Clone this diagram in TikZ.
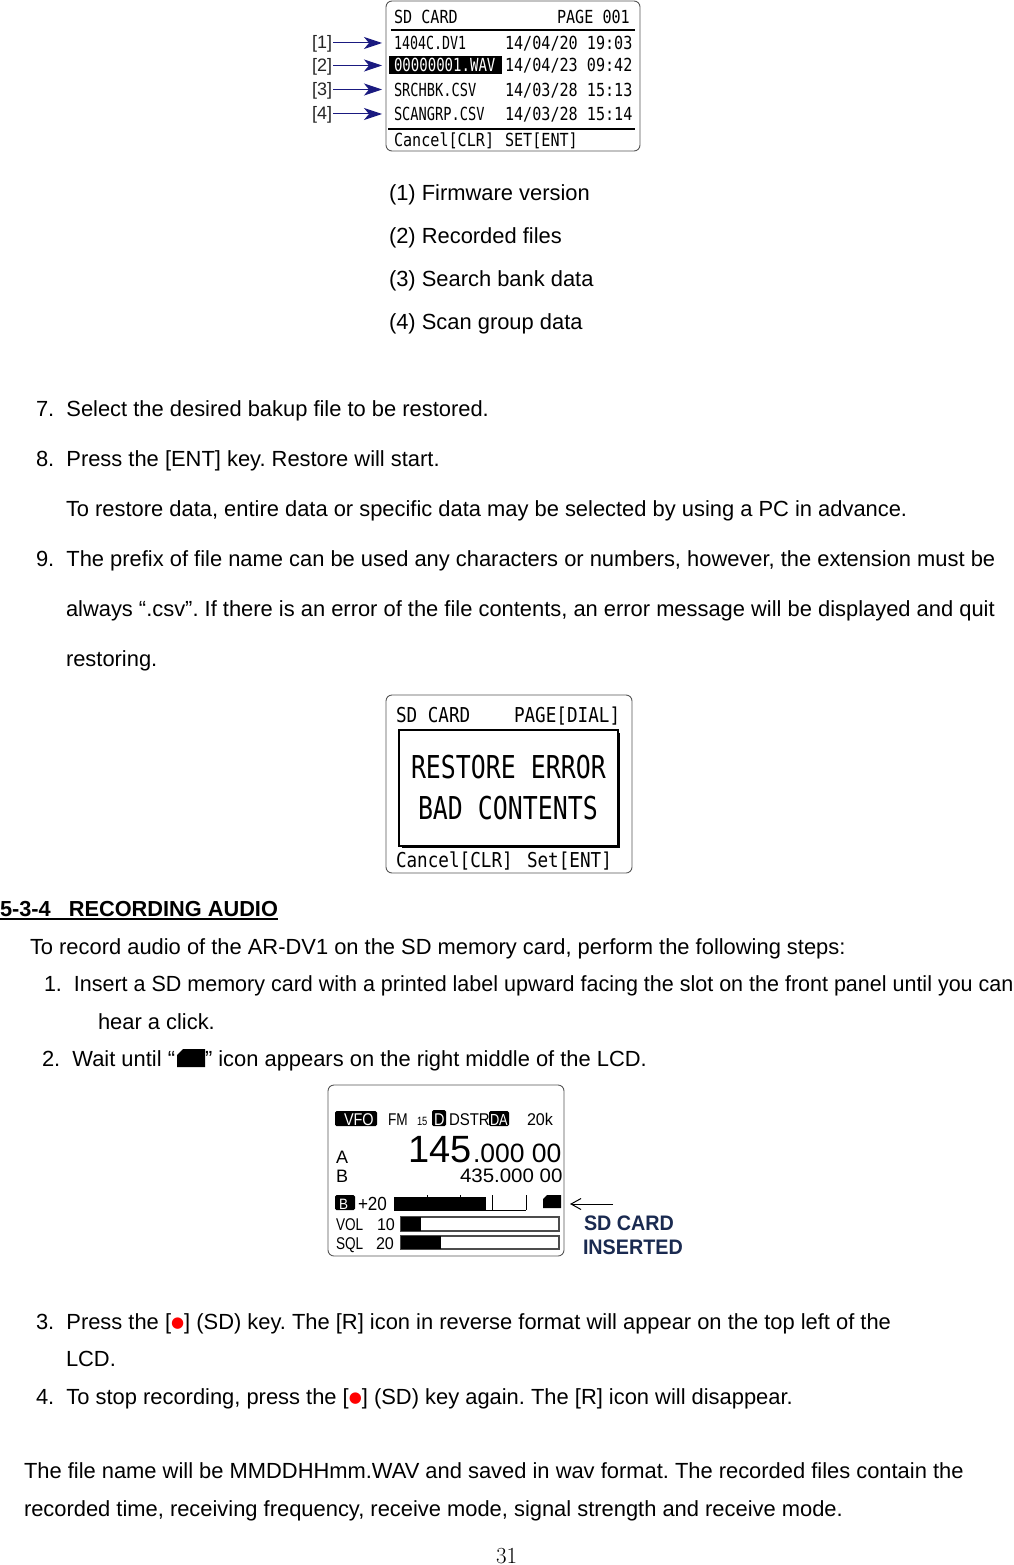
\documentclass[tikz,border=0pt]{standalone}
\usepackage{fontspec}
\setmainfont{Liberation Sans}
\newfontfamily\lcdfont{DejaVu Sans Mono}
\newfontfamily\dotfont{DejaVu Sans}
\newfontfamily\numfont{Latin Modern Roman}
\usetikzlibrary{arrows.meta}
\definecolor{navyarrow}{HTML}{1A1A80}
\definecolor{cardblue}{HTML}{1A2A50}
\definecolor{lcdgrey}{HTML}{555555}
\tikzset{
  x=1pt,y=-1pt,
  body/.style={anchor=base west,inner sep=0pt,outer sep=0pt,font=\fontsize{21.9}{22}\selectfont\frenchspacing,text=black},
  lcdtxt/.style={anchor=base west,inner sep=0pt,outer sep=0pt,text=black},
  small/.style={anchor=base west,inner sep=0pt,outer sep=0pt,font=\fontsize{18}{18}\selectfont,text=black!85},
  frame/.style={draw=lcdgrey,line width=0.9pt,rounded corners=6pt,fill=white},
  rulebar/.style={draw=black,line width=1.6pt},
  barbox/.style={draw=black!70,line width=1.4pt},
  lead/.style={draw=navyarrow,line width=1pt,-{Stealth[length=18pt,width=12pt,inset=5pt]}},
  thin arrow/.style={draw=black,line width=1pt,-{Straight Barb[length=10pt,width=11pt]}},
}
% name, x, y(baseline), size, xscale, text
\newcommand\lt[7][black]{\node[lcdtxt,text=#1] (#2) at (#3,#4) {\scalebox{#6}[1]{\fontsize{#5}{#5}\lcdfont #7}};}
\newcommand\st[7][black]{\node[lcdtxt,text=#1] (#2) at (#3,#4) {\scalebox{#6}[1]{\fontsize{#5}{#5}\selectfont #7}};}
\newcommand\bdot{\textcolor{red}{\raisebox{2.5pt}{\fontsize{15}{15}\dotfont ●}}}
\begin{document}
\begin{tikzpicture}
\useasboundingbox (0,0) rectangle (1013,1565);
\fill[white] (0,0) rectangle (1013,1565);

%% ---------- LCD 1
\path[frame] (386,1) rectangle (640,151);
\draw[rulebar] (391,30) -- (635,30);
\draw[rulebar] (388,129) -- (635,129);
\lt{aa}{394}{24}{18}{.84}{SD CARD}
\lt{ab}{557}{24}{18}{.84}{PAGE 001}
\lt{ac}{394}{49.5}{18}{.74}{1404C.DV1}
\lt{ad}{505}{49.5}{18}{.84}{14/04/20 19:03}
\fill[black] (389,56) rectangle (502,74);
\lt[white]{ae}{394}{72}{18}{.78}{00000001.WAV}
\lt{af}{505}{72}{18}{.84}{14/04/23 09:42}
\lt{ag}{394}{96.5}{18}{.76}{SRCHBK.CSV}
\lt{ah}{505}{96.5}{18}{.84}{14/03/28 15:13}
\lt{ai}{394}{120.5}{18}{.76}{SCANGRP.CSV}
\lt{aj}{505}{120.5}{18}{.84}{14/03/28 15:14}
\lt{ak}{394}{147}{18}{.84}{Cancel[CLR]}
\lt{al}{505}{147}{18}{.84}{SET[ENT]}

\node[small] (l1) at (312,48.5) {[1]};
\node[small] (l2) at (312,71.5) {[2]};
\node[small] (l3) at (312,95.5) {[3]};
\node[small] (l4) at (312,119.5) {[4]};
\coordinate (t1) at (382,43);
\coordinate (t2) at (382,65.5);
\coordinate (t3) at (382,89.5);
\coordinate (t4) at (382,114);
\draw[lead] (l1.east |- t1) ++(1,0) -- (t1);
\draw[lead] (l2.east |- t2) ++(1,0) -- (t2);
\draw[lead] (l3.east |- t3) ++(1,0) -- (t3);
\draw[lead] (l4.east |- t4) ++(1,0) -- (t4);

%% ---------- text block 1
\node[body] (b1) at (389,200.5) {(1) Firmware version};
\node[body] (b2) at (389,243.5) {(2) Recorded files};
\node[body] (b3) at (389,286.5) {(3) Search bank data};
\node[body] (b4) at (389,329.5) {(4) Scan group data};
\node[body] (b5) at (36,416.5) {7.\ \ Select the desired bakup file to be restored.};
\node[body] (b6) at (36,466.5) {8.\ \ Press the [ENT] key. Restore will start.};
\node[body] (b7) at (66,516.5) {To restore data, entire data or specific data may be selected by using a PC in advance.};
\node[body] (b8) at (36,566.5) {9.\ \ The prefix of file name can be used any characters or numbers, however, the extension must be};
\node[body] (b9) at (66,616.5) {always “.csv”. If there is an error of the file contents, an error message will be displayed and quit};
\node[body] (b10) at (66,666.5) {restoring.};

%% ---------- LCD 2
\path[frame] (386,695) rectangle (632,873);
\path[draw=black,line width=1.6pt] (399,730) rectangle (618,846);
\draw[black,line width=1.4pt] (619.5,733) -- (619.5,847.5) -- (402,847.5);
\lt{ca}{396}{722}{20.5}{.86}{SD CARD}
\lt{cb}{514}{722}{20.5}{.86}{PAGE[DIAL]}
\lt{cc}{411}{778}{31.5}{.79}{RESTORE ERROR}
\lt{cd}{418}{819}{31.5}{.79}{BAD CONTENTS}
\lt{ce}{396}{867}{20.5}{.86}{Cancel[CLR]}
\lt{cf}{527}{867}{20.5}{.86}{Set[ENT]}

%% ---------- section
\node[body,font=\fontsize{21.75}{22}\selectfont\bfseries] (h1) at (0,916.5) {5-3-4\ \ \ RECORDING AUDIO};
\draw[black,line width=1.5pt] ([yshift=-2.5pt]h1.base west) -- ([yshift=-2.5pt]h1.base east);
\node[body] (s1) at (30,954.5) {To record audio of the AR-DV1 on the SD memory card, perform the following steps:};
\node[body] (s2) at (44,991.5) {\scalebox{.982}[1]{1.\ \ Insert a SD memory card with a printed label upward facing the slot on the front panel until you can}};
\node[body] (s3) at (98,1029.5) {hear a click.};
\node[body] (s4) at (42,1066.5) {2.\ \ Wait until “};
\fill[black] (177,1067) -- (177,1055) -- (183,1049) -- (205,1049) -- (205,1067) -- cycle;
\node[body] (s5) at (205,1066.5) {” icon appears on the right middle of the LCD.};

%% ---------- LCD 3
\path[frame] (328,1085) rectangle (564,1256);
\fill[black,rounded corners=1.5pt] (335,1111) rectangle (377,1126);
\st[white]{da}{344}{1125}{17}{.85}{VFO}
\st{db}{388}{1125}{17}{.8}{FM}
\st{dc}{417}{1125}{12}{.78}{15}
\fill[black,rounded corners=1.5pt] (432,1110) rectangle (446,1126);
\st[white]{dd}{434}{1125}{17}{.85}{D}
\st{de}{449}{1125}{17}{.88}{DSTR}
\fill[black,rounded corners=1.5pt] (489,1111) rectangle (509,1126);
\st[white]{df}{490}{1125}{16}{.8}{DA}
\st{dg}{527}{1125}{17}{.95}{20k}
\st{dh}{336}{1163}{18}{1}{A}
\st{di}{336}{1182}{18}{1}{B}
\st{dj}{408}{1162}{38}{1}{145}
\st{dk}{473}{1162}{26.5}{1}{.000 00}
\st{dl}{460}{1182}{19.5}{1.05}{435.000 00}
\fill[black,rounded corners=1.5pt] (335,1195) rectangle (355,1210);
\st[white]{dm}{339}{1209}{15}{.9}{B}
\st{dn}{358}{1210}{19}{.9}{+20}
\fill[black] (394,1197) rectangle (486,1210);
\draw[black,line width=1pt] (394,1210) -- (526,1210);
\draw[black,line width=1pt] (492,1195) -- (492,1210);
\draw[black,line width=1pt] (526,1195) -- (526,1210);
\draw[black,line width=.8pt] (427,1195) -- (427,1198);
\draw[black,line width=.8pt] (460,1195) -- (460,1198);
\fill[black] (543,1208) -- (543,1199) -- (547,1195) -- (561,1195) -- (561,1208) -- cycle;
\coordinate (sdicon) at (570,1204);
\coordinate (sdfrom) at (613,1204);
\draw[thin arrow] (sdfrom) -- (sdicon);
\st{dp}{336}{1230}{17}{.8}{VOL}
\st{dq}{377}{1230}{17}{.95}{10}
\draw[barbox] (401,1217) rectangle (559,1231);
\fill[black] (401,1217) rectangle (421,1231);
\st{dr}{336}{1249}{17}{.8}{SQL}
\st{ds}{376}{1249}{17}{.95}{20}
\draw[barbox] (401,1236) rectangle (559,1249);
\fill[black] (401,1236) rectangle (441,1249);
\node[lcdtxt,text=cardblue] (dt) at (584,1230) {\scalebox{.94}[1]{\fontsize{21}{21}\selectfont\bfseries SD CARD}};
\node[lcdtxt,text=cardblue] (du) at (583,1254) {\scalebox{.94}[1]{\fontsize{21}{21}\selectfont\bfseries INSERTED}};

%% ---------- final text
\node[body] (e1) at (36,1329.5) {3.\ \ Press the [\bdot] (SD) key. The [R] icon in reverse format will appear on the top left of the};
\node[body] (e2) at (66,1366.5) {LCD.};
\node[body] (e3) at (36,1404.5) {4.\ \ To stop recording, press the [\bdot] (SD) key again. The [R] icon will disappear.};
\node[body] (e4) at (24,1478.5) {The file name will be MMDDHHmm.WAV and saved in wav format. The recorded files contain the};
\node[body] (e5) at (24,1516.5) {recorded time, receiving frequency, receive mode, signal strength and receive mode.};
\node[lcdtxt,font=\fontsize{23}{23}\numfont] (pg) at (496,1563) {31};
\end{tikzpicture}
\end{document}
